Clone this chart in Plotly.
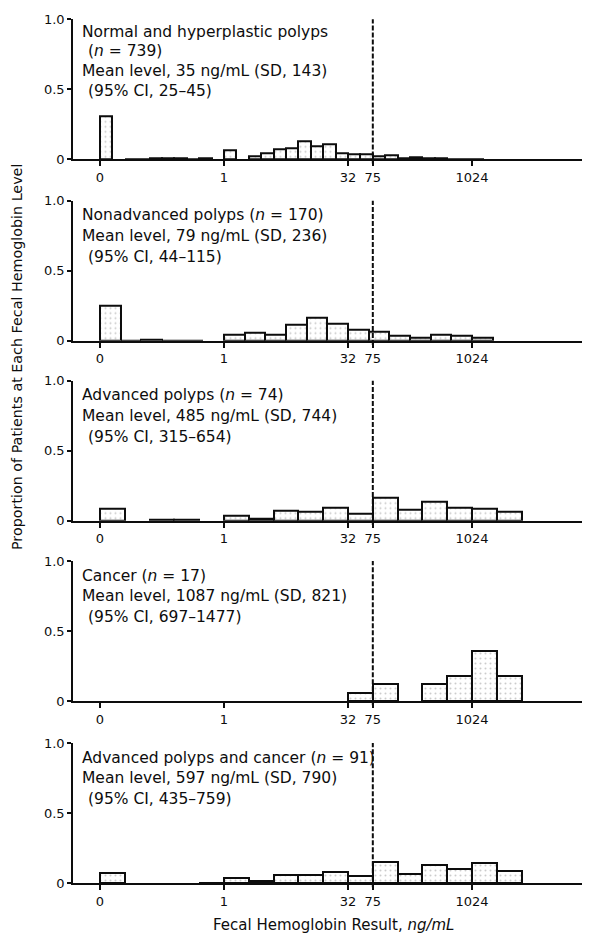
import plotly.graph_objects as go

# ---- data -------------------------------------------------------------
# x positions are on a doubling scale: "1" at 0, "32" at 5, "1024" at 10,
# with the zero-result bin placed at -5 and the 75 ng/mL cut-off at 6.
TICK_POS = [-5, 0, 5, 6, 10]
TICK_TEXT = ["0", "1", "32", "75", "1024"]
CUTOFF_POS = 6
BIN_START = -5

PANEL_LINES = [
    ["Normal and hyperplastic polyps", "(<i>n</i> = 739)",
     "Mean level, 35 ng/mL (SD, 143)", "(95% CI, 25–45)"],
    ["Nonadvanced polyps (<i>n</i> = 170)",
     "Mean level, 79 ng/mL (SD, 236)", "(95% CI, 44–115)"],
    ["Advanced polyps (<i>n</i> = 74)",
     "Mean level, 485 ng/mL (SD, 744)", "(95% CI, 315–654)"],
    ["Cancer (<i>n</i> = 17)",
     "Mean level, 1087 ng/mL (SD, 821)", "(95% CI, 697–1477)"],
    ["Advanced polyps and cancer (<i>n</i> = 91)",
     "Mean level, 597 ng/mL (SD, 790)", "(95% CI, 435–759)"],
]

BIN_WIDTH = [0.5, 5 / 6, 1.0, 1.0, 1.0]

# proportion of patients per bin, consecutive bins from BIN_START
normal_hyper = [0.31, None, 0.003, 0.003, 0.004, 0.004, 0.004, 0.003, 0.004, None,
                0.062, None, 0.020, 0.044, 0.068, 0.077, 0.130, 0.094, 0.107, 0.046,
                0.033, 0.033, 0.022, 0.028, 0.010, 0.017, 0.004, 0.004, 0.003, 0.003,
                0.002]
nonadvanced = [0.248, 0.003, 0.004, 0.003, 0.003, None,
               0.041, 0.055, 0.041, 0.114, 0.167, 0.120, 0.078, 0.063, 0.037,
               0.023, 0.041, 0.035, 0.022]
advanced = [0.087, None, 0.004, 0.004, None,
            0.037, 0.012, 0.071, 0.066, 0.093, 0.053, 0.163, 0.078, 0.138,
            0.090, 0.086, 0.067]
cancer = [None, None, None, None, None,
          None, None, None, None, None, 0.059, 0.118, None, 0.118, 0.176,
          0.360, 0.176]
adv_and_cancer = [0.074, None, None, None, 0.003,
                  0.035, 0.013, 0.060, 0.056, 0.079, 0.052, 0.152, 0.064, 0.132,
                  0.100, 0.143, 0.088]
PROPORTIONS = [normal_hyper, nonadvanced, advanced, cancer, adv_and_cancer]

Y_TICKS = [0, 0.5, 1.0]
Y_TICK_TEXT = ["0", "0.5", "1.0"]

# ---- layout geometry ----------------------------------------------------
W, H = 591, 939
ML, MR, MT, MB = 73, 9, 19, 56
PLOT_H = H - MT - MB
PLOT_W = W - ML - MR
BASELINES_PX = [159.3, 340.7, 520.7, 701.0, 883.0]
PANEL_PX = 140.0
X_RANGE = [-6.089, -6.089 + PLOT_W / 24.8]
FONT = "DejaVu Sans"
INK = "#0d0d0d"


def py(px):
    return (H - MB - px) / PLOT_H


def pxx(px):
    return (px - ML) / PLOT_W


fig = go.Figure()
layout = dict(
    width=W, height=H,
    margin=dict(l=ML, r=MR, t=MT, b=MB),
    paper_bgcolor="white", plot_bgcolor="white",
    showlegend=False,
    font=dict(family=FONT, size=13, color=INK),
    bargap=0,
)
shapes, annotations = [], []

for i, (vals, w) in enumerate(zip(PROPORTIONS, BIN_WIDTH)):
    sfx = "" if i == 0 else str(i + 1)
    xs = [BIN_START + (k + 0.5) * w for k in range(len(vals))]
    fig.add_trace(go.Bar(
        x=xs, y=vals, width=w,
        xaxis=f"x{sfx}", yaxis=f"y{sfx}",
        marker=dict(
            color="white",
            line=dict(color=INK, width=2),
            pattern=dict(shape=".", fgcolor="#9a9a9a", size=5, solidity=0.13,
                         fillmode="overlay"),
        ),
        hoverinfo="skip",
    ))

    base = BASELINES_PX[i]
    layout[f"xaxis{sfx}"] = dict(
        anchor=f"y{sfx}", domain=[0, 1], range=X_RANGE,
        tickmode="array", tickvals=TICK_POS, ticktext=TICK_TEXT,
        ticks="outside", ticklen=5, tickwidth=1.5, tickcolor=INK,
        ticklabelstandoff=0,
        tickfont=dict(family=FONT, size=13, color=INK),
        showline=True, linewidth=2, linecolor=INK,
        showgrid=False, zeroline=False, fixedrange=True,
    )
    layout[f"yaxis{sfx}"] = dict(
        anchor=f"x{sfx}", domain=[py(base), py(base - PANEL_PX)], range=[0, 1.0],
        tickmode="array", tickvals=Y_TICKS, ticktext=Y_TICK_TEXT,
        ticks="outside", ticklen=4, tickwidth=1.5, tickcolor=INK,
        tickfont=dict(family=FONT, size=13, color=INK),
        showline=True, linewidth=1.5, linecolor=INK,
        showgrid=False, zeroline=False, fixedrange=True,
    )

    # 75 ng/mL positivity cut-off
    shapes.append(dict(
        type="line", xref=f"x{sfx}", yref=f"y{sfx} domain",
        x0=CUTOFF_POS, x1=CUTOFF_POS, y0=-0.03, y1=1.0,
        line=dict(color=INK, width=2, dash="5px,2px"),
    ))

    top, step = (0.91, 0.14) if i == 0 else (0.895, 0.148)
    for j, line in enumerate(PANEL_LINES[i]):
        indent = 6 if line.startswith("(") else 0
        annotations.append(dict(
            text=line, xref="paper", yref=f"y{sfx}",
            x=pxx(80 + indent), y=top - j * step,
            xanchor="left", yanchor="middle", showarrow=False,
            font=dict(family=FONT, size=15.5, color=INK),
        ))

annotations.append(dict(
    text="Proportion of Patients at Each Fecal Hemoglobin Level",
    xref="paper", yref="paper", x=pxx(17), y=py(357),
    textangle=-90, xanchor="center", yanchor="middle", showarrow=False,
    font=dict(family=FONT, size=14.3, color=INK),
))
annotations.append(dict(
    text="Fecal Hemoglobin Result, <i>ng/mL</i>",
    xref="paper", yref="paper", x=pxx(333), y=py(925),
    xanchor="center", yanchor="middle", showarrow=False,
    font=dict(family=FONT, size=15, color=INK),
))

layout["shapes"] = shapes
layout["annotations"] = annotations
fig.update_layout(**layout)
fig.write_html("out.html")
